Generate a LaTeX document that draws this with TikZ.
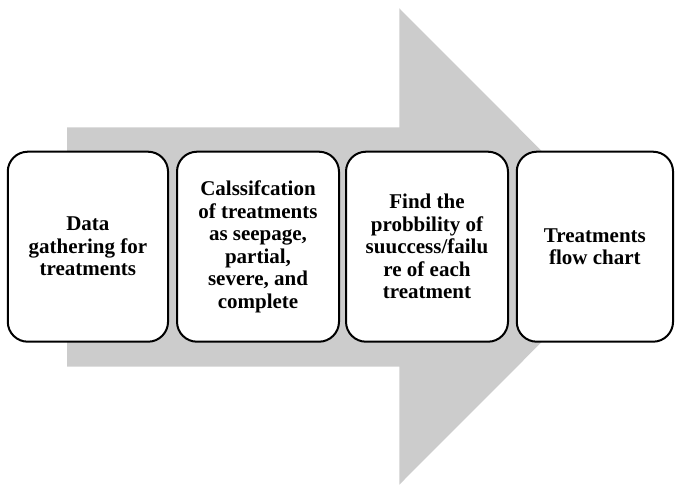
\documentclass[tikz,border=0pt]{standalone}
\usepackage{fontspec}
\setmainfont{Liberation Serif}
\definecolor{arrowgray}{RGB}{204,204,204}
\tikzset{
  stagebox/.style={draw=black, line width=2pt, fill=white, rectangle,
    rounded corners=20pt, minimum height=190pt, inner sep=2pt,
    align=center, font=\bfseries\fontsize{21}{22.5}\selectfont},
  bigarrow/.style={fill=arrowgray, draw=none}
}
\begin{document}
\begin{tikzpicture}[x=1pt,y=-1pt]
\useasboundingbox (0,0) rectangle (675,485);
\fill[bigarrow] (67,127.3) -- (399.3,127.3) -- (399.3,8.3) -- (637,246.5)
  -- (399.3,484.7) -- (399.3,366.7) -- (67,366.7) -- cycle;
\node[stagebox, minimum width=160.3pt] (b1) at (87.9,246.7)
  {Data\\gathering for\\treatments};
\node[stagebox, minimum width=162pt] (b2) at (258,246.7)
  {Calssifcation\\of treatments\\as seepage,\\partial,\\severe, and\\complete};
\node[stagebox, minimum width=162pt] (b3) at (427,246.7)
  {Find the\\probbility of\\suuccess/failu\\re of each\\treatment};
\node[stagebox, minimum width=156.3pt] (b4) at (594.9,246.7)
  {Treatments\\flow chart};
\end{tikzpicture}
\end{document}
